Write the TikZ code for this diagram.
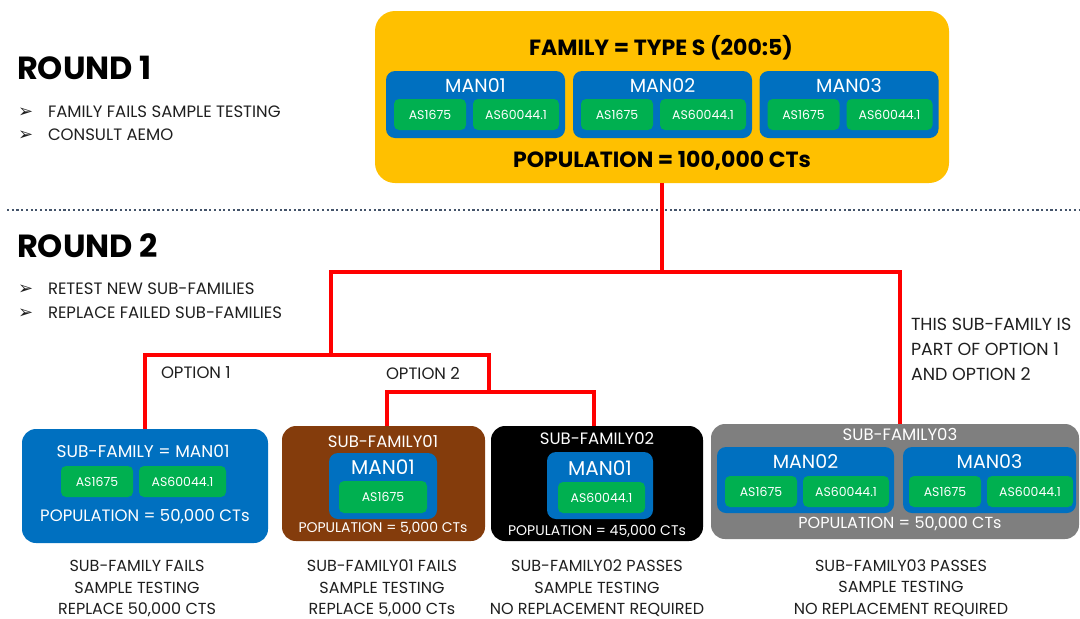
\documentclass[tikz,border=0pt]{standalone}
\usepackage{fontspec}
\setmainfont{Poppins}
\newfontfamily\dejavu{DejaVu Sans}
\definecolor{famyellow}{HTML}{FFC000}
\definecolor{manblue}{HTML}{0070C0}
\definecolor{stdgreen}{HTML}{00B050}
\definecolor{sfbrown}{HTML}{843C0C}
\definecolor{sfgray}{HTML}{7F7F7F}
\definecolor{linered}{HTML}{FF0000}
\definecolor{sepgray}{HTML}{44546A}
\definecolor{txtdark}{HTML}{1F1F1F}
\newcommand{\fsz}[1]{\fontsize{#1}{#1}\selectfont}
\newcommand{\bul}{\makebox[30pt][l]{\dejavu\fsz{18}➢}}

\begin{document}
\begin{tikzpicture}[x=1pt, y=-1pt,
  every node/.style={inner sep=0pt, outer sep=0pt, text=txtdark},
  famyel/.style={fill=famyellow, rounded corners=20pt},
  manbox/.style={fill=manblue, rounded corners=9pt},
  stdbox/.style={fill=stdgreen, rounded corners=5pt, text=white, font=\fsz{12.5}, minimum height=31},
  subbox/.style={rounded corners=14pt},
  wlabel/.style={text=white},
  bullet/.style={anchor=west, font=\fsz{16.5}},
  tree/.style={draw=linered, line width=4pt},
  sepline/.style={draw=sepgray, line width=2.2pt, dash pattern=on 2.2pt off 2.5pt},
  caption/.style={align=center, font=\fontsize{16}{21.5}\selectfont}
]
\useasboundingbox (0,0) rectangle (1080,619);

% round 1
\node[anchor=west, font=\bfseries\fsz{32}, text=black] (round1) at (17,68) {ROUND 1};
\node[bullet] (r1a) at (18,112) {\bul FAMILY FAILS SAMPLE TESTING};
\node[bullet] (r1b) at (18,135) {\bul CONSULT AEMO};

\node[famyel, minimum width=574, minimum height=172] (family) at (662,97) {};
\node[font=\bfseries\fsz{22}, text=black] (famtitle) at (661,48) {FAMILY = TYPE S (200:5)};
\foreach \n/\x in {01/475.5, 02/662.5, 03/849} {
  \node[manbox, minimum width=179, minimum height=67] (man\n) at (\x,104.5) {};
  \node[wlabel, font=\fsz{19}] (man\n-t) at (\x,86) {MAN\n};
  \node[stdbox, minimum width=72] (man\n-a) at (\x-45.5,114.5) {AS1675};
  \node[stdbox, minimum width=86] (man\n-b) at (\x+40.5,114.5) {AS60044.1};
}
\node[font=\bfseries\fsz{22}, text=black] (fampop) at (662,161) {POPULATION = 100,000 CTs};

\coordinate (sepL) at (7,210);
\coordinate (sepR) at (1080,210);
\draw[sepline] (sepL) -- (sepR);

% round 2
\node[anchor=west, font=\bfseries\fsz{32}, text=black] (round2) at (17,246) {ROUND 2};
\node[bullet] (r2a) at (18,289) {\bul RETEST NEW SUB-FAMILIES};
\node[bullet] (r2b) at (18,313) {\bul REPLACE FAILED SUB-FAMILIES};

% sub-family = man01
\node[subbox, fill=manblue, minimum width=246, minimum height=114] (sf1) at (145,486) {};
\node[wlabel, font=\fsz{17}] (sf1t) at (143,451) {SUB-FAMILY = MAN01};
\node[stdbox, minimum width=72] (sf1a) at (97,481.5) {AS1675};
\node[stdbox, minimum width=87] (sf1b) at (182.5,481.5) {AS60044.1};
\node[wlabel, font=\fsz{16.5}] (sf1p) at (145,517) {POPULATION = 50,000 CTs};

% sub-family01
\node[subbox, fill=sfbrown, minimum width=203, minimum height=115] (sf01) at (383.5,483.5) {};
\node[wlabel, font=\fsz{16.5}] (sf01t) at (383,441) {SUB-FAMILY01};
\node[manbox, minimum width=108, minimum height=66] (sf01m) at (383,486) {};
\node[wlabel, font=\fsz{20}] (sf01mt) at (383,467) {MAN01};
\node[stdbox, minimum width=88, minimum height=32] (sf01a) at (383,497) {AS1675};
\node[wlabel, font=\fsz{14}] (sf01p) at (383,528) {POPULATION = 5,000 CTs};

% sub-family02
\node[subbox, fill=black, minimum width=212, minimum height=115] (sf02) at (597,483.5) {};
\node[wlabel, font=\fsz{16.5}] (sf02t) at (597,438) {SUB-FAMILY02};
\node[manbox, minimum width=106, minimum height=67] (sf02m) at (600,485.5) {};
\node[wlabel, font=\fsz{20}] (sf02mt) at (600,468) {MAN01};
\node[stdbox, minimum width=87] (sf02b) at (601.5,497.5) {AS60044.1};
\node[wlabel, font=\fsz{14}] (sf02p) at (597,531) {POPULATION = 45,000 CTs};

% sub-family03
\node[subbox, fill=sfgray, minimum width=368, minimum height=115] (sf03) at (895,481.5) {};
\node[wlabel, font=\fsz{16.5}] (sf03t) at (900,434) {SUB-FAMILY03};
\foreach \n/\x/\w in {02/805.5/177, 03/989.5/173} {
  \node[manbox, minimum width=\w, minimum height=66] (sf03m\n) at (\x,480) {};
  \node[wlabel, font=\fsz{19}] (sf03m\n-t) at (\x,462) {MAN\n};
  \node[stdbox, minimum width=72] (sf03m\n-a) at (\x-44.5,491.5) {AS1675};
  \node[stdbox, minimum width=86] (sf03m\n-b) at (\x+40.5,491.5) {AS60044.1};
}
\node[wlabel, font=\fsz{16}] (sf03p) at (900,524) {POPULATION = 50,000 CTs};

% red tree
\coordinate (hub) at (662,272);
\coordinate (optsplit) at (331,355);
\coordinate (opt2split) at (489,392);
\draw[tree] (family.south) -- (hub);
\draw[tree] (optsplit) |- (hub) -| ([xshift=5pt]sf03.north);
\draw[tree] (sf1.north) |- (optsplit) -| (opt2split);
\draw[tree] ([xshift=3.5pt]sf01.north) |- (opt2split);
\draw[tree] ([xshift=-3pt]sf02.north) |- (opt2split);

\node[anchor=west, font=\fsz{16.5}] (opt1) at (161,373) {OPTION 1};
\node[anchor=west, font=\fsz{16.5}] (opt2) at (386,373) {OPTION 2};
\node[anchor=north west, align=left, font=\fontsize{17.5}{25}\selectfont] (note) at (911,318)
  {THIS SUB-FAMILY IS\\PART OF OPTION 1\\AND OPTION 2};

% results
\node[caption] (cap1) at (137,588.5) {SUB-FAMILY FAILS\\SAMPLE TESTING\\REPLACE 50,000 CTS};
\node[caption] (cap01) at (382,588.5) {SUB-FAMILY01 FAILS\\SAMPLE TESTING\\REPLACE 5,000 CTs};
\node[caption] (cap02) at (597,588.5) {SUB-FAMILY02 PASSES\\SAMPLE TESTING\\NO REPLACEMENT REQUIRED};
\node[caption] (cap03) at (901,588) {SUB-FAMILY03 PASSES\\SAMPLE TESTING\\NO REPLACEMENT REQUIRED};
\end{tikzpicture}
\end{document}
